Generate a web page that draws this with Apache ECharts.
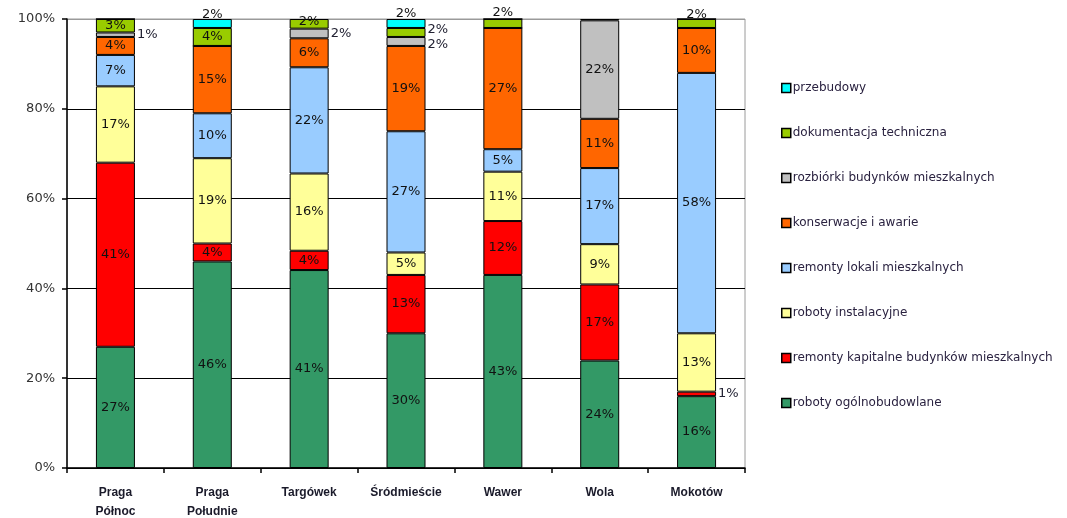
<!DOCTYPE html>
<html>
<head>
<meta charset="utf-8">
<script src="https://cdn.jsdelivr.net/npm/echarts@6/dist/echarts.min.js"></script>
<style>
  html, body { margin: 0; padding: 0; background: #fff; }
  #chart { width: 1067px; height: 518px; }
</style>
</head>
<body>
<div id="chart"></div>
<script>
// Districts (x axis)
const categories = ['Praga\nPółnoc', 'Praga\nPołudnie', 'Targówek', 'Śródmieście', 'Wawer', 'Wola', 'Mokotów'];

// Work types, bottom of the stack first
const seriesNames = [
  'roboty ogólnobudowlane',
  'remonty kapitalne budynków mieszkalnych',
  'roboty instalacyjne',
  'remonty lokali mieszkalnych',
  'konserwacje i awarie',
  'rozbiórki budynków mieszkalnych',
  'dokumentacja techniczna',
  'przebudowy'
];

// Share of each work type per district, in %
const ogolnobudowlane = [27, 46, 41, 30, 43, 24, 16];
const kapitalne       = [41, 4, 4, 13, 12, 17, 1];
const instalacyjne    = [17, 19, 16, 5, 11, 9, 13];
const lokale          = [7, 10, 22, 27, 5, 17, 58];
const konserwacje     = [4, 15, 6, 19, 27, 11, 10];
const rozbiorki       = [1, 0, 2, 2, 0, 22, 0];
const dokumentacja    = [3, 4, 2, 2, 2, 0.3, 2];
const przebudowy      = [0, 2, 0, 2, 0, 0, 0];

const yTicks = [0, 20, 40, 60, 80, 100];

const colors = ['#339966', '#FF0000', '#FFFF99', '#99CCFF', '#FF6600', '#C0C0C0', '#99CC00', '#00FFFF'];

const raw = [ogolnobudowlane, kapitalne, instalacyjne, lokale, konserwacje, rozbiorki, dokumentacja, przebudowy];

// 100% stacking: each column is scaled to its own total
const totals = categories.map((_, c) => raw.reduce((s, arr) => s + arr[c], 0));

// Label placement for the thin segments
const labelRight = { '5-0': [0, 0], '5-2': [0, 0], '6-3': [0, -3], '5-3': [0, 3], '1-6': [0, 0] };
const labelRaised = { '7-1': [0, -9], '7-3': [0, -10], '6-4': [0, -11], '6-6': [0, -9], '6-2': [0, -2] };

const series = raw.map((arr, s) => ({
  name: seriesNames[s],
  type: 'bar',
  stack: 'total',
  barWidth: 39,
  itemStyle: { color: colors[s], borderColor: '#000', borderWidth: 1 },
  label: { fontFamily: 'DejaVu Sans', fontSize: 13, color: '#111' },
  data: arr.map((v, c) => {
    const key = s + '-' + c;
    const item = { value: v / totals[c] * 100 };
    let label = {
      show: v >= 0.5,
      position: 'inside',
      formatter: () => v + '%'
    };
    if (labelRight[key]) {
      label = Object.assign(label, { position: 'right', distance: 2, offset: labelRight[key], color: '#223' });
    } else if (labelRaised[key]) {
      label = Object.assign(label, { offset: labelRaised[key] });
    }
    item.label = label;
    return item;
  })
}));

const chart = echarts.init(document.getElementById('chart'), null, { renderer: 'canvas' });
chart.setOption({
  animation: false,
  backgroundColor: '#fff',
  textStyle: { fontFamily: 'DejaVu Sans' },
  grid: {
    left: 67, right: 322, top: 19, bottom: 50,
    outerBoundsMode: 'none', containLabel: false,
    show: true, borderColor: '#9a9a9a', borderWidth: 1
  },
  legend: {
    orient: 'vertical',
    left: 776,
    top: 76,
    itemWidth: 9,
    itemHeight: 9,
    itemGap: 31,
    icon: 'rect',
    itemStyle: { borderColor: '#000', borderWidth: 1.5 },
    textStyle: { fontFamily: 'DejaVu Sans', fontSize: 12, color: '#2a2240', lineHeight: 14, padding: [0, 0, 0, -3] },
    data: seriesNames.slice().reverse()
  },
  xAxis: {
    type: 'category',
    data: categories,
    boundaryGap: true,
    axisLine: { show: true, lineStyle: { color: '#000', width: 1.5 } },
    axisTick: { show: true, alignWithLabel: false, length: 5, lineStyle: { color: '#000', width: 1.5 } },
    axisLabel: { color: '#1a1a2a', fontFamily: 'Liberation Sans', fontWeight: 'bold', fontSize: 12, margin: 15, lineHeight: 19, interval: 0 }
  },
  yAxis: {
    type: 'value',
    min: yTicks[0],
    max: yTicks[yTicks.length - 1],
    interval: yTicks[1] - yTicks[0],
    axisLine: { show: true, lineStyle: { color: '#000', width: 1.5 } },
    axisTick: { show: true, length: 5, lineStyle: { color: '#000', width: 1.5 } },
    axisLabel: { formatter: '{value}%', color: '#333', fontFamily: 'DejaVu Sans', fontSize: 13, margin: 12 },
    splitLine: { show: true, lineStyle: { color: ['#000', '#000', '#000', '#000', '#000', '#9a9a9a'], width: 1.2 } }
  },
  series: series
});
</script>
</body>
</html>
